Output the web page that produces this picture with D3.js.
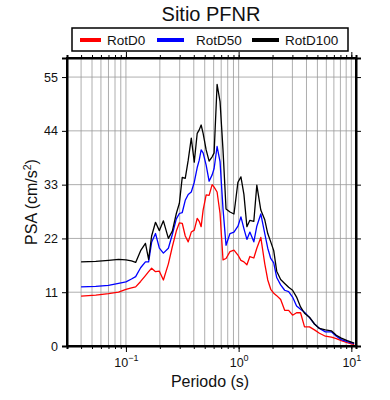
<!DOCTYPE html>
<html>
<head>
<meta charset="utf-8">
<script src="https://cdn.jsdelivr.net/npm/d3@7"></script>
<style>
  body { margin: 0; background: #fff; }
  text { font-family: "Liberation Sans", Arial, sans-serif; fill: #111; }
</style>
</head>
<body>
<script>
const width = 390;
const height = 400;
const margin = {top: 58, right: 34, bottom: 54, left: 67};

// periods (s)
const periods = [0.04, 0.054, 0.07, 0.086, 0.1, 0.112, 0.122, 0.135, 0.149, 0.159, 0.169, 0.183,
  0.198, 0.215, 0.238, 0.258, 0.28, 0.298, 0.316, 0.336, 0.357, 0.38, 0.404, 0.429, 0.447,
  0.465, 0.484, 0.515, 0.547, 0.582, 0.606, 0.644, 0.684, 0.727, 0.773, 0.838, 0.909, 0.986,
  1.048, 1.114, 1.184, 1.258, 1.364, 1.45, 1.573, 1.706, 1.813, 1.927, 2.048, 2.177, 2.36,
  2.561, 2.777, 3.011, 3.267, 3.543, 3.843, 4.253, 4.71, 5.213, 5.888, 6.65, 7.358, 8.145,
  9.2, 10.6];

const rotD0 = [10.2, 10.4, 10.7, 11.0, 11.6, 11.9, 12.1, 13.2, 14.4, 15.2, 15.9, 15.2,
  15.3, 13.5, 16.8, 20.3, 23.5, 25.2, 25.1, 22.5, 21.3, 23.3, 23.7, 26.1, 25.5,
  24.4, 27.8, 30.9, 30.8, 33.0, 32.5, 31.5, 27.1, 17.6, 17.9, 19.3, 19.6, 18.6,
  17.5, 17.2, 16.6, 18.3, 18.0, 20.0, 22.2, 16.8, 13.5, 11.6, 10.8, 10.3, 9.5,
  7.3, 7.3, 6.3, 6.8, 6.8, 3.9, 3.9, 3.3, 2.6, 2.0, 1.8, 1.5, 1.1,
  0.7, 0.3];

const rotD50 = [12.1, 12.2, 12.4, 12.8, 13.1, 13.7, 14.2, 16.0, 17.2, 17.2, 21.2, 23.0,
  20.0, 19.0, 20.0, 22.8, 26.0, 27.1, 27.3, 29.8, 31.0, 31.5, 33.5, 36.5, 38.0,
  40.1, 39.5, 37.0, 33.7, 35.0, 36.3, 40.8, 37.7, 28.0, 20.6, 23.0, 23.3, 24.5,
  26.4, 24.0, 21.8, 23.3, 21.3, 24.5, 27.0, 23.0, 20.0, 17.9, 17.0, 14.0, 12.5,
  11.4, 11.1, 10.0, 8.2, 7.5, 6.9, 5.8, 4.5, 3.6, 2.9, 2.9, 2.0, 1.3,
  0.9, 0.5];

const rotD100 = [17.2, 17.3, 17.5, 17.7, 17.6, 17.4, 17.1, 19.5, 21.0, 17.7, 22.5, 25.3,
  23.6, 25.6, 22.0, 23.5, 27.1, 29.2, 34.5, 34.3, 38.0, 42.5, 37.6, 43.5, 44.2,
  45.2, 43.5, 40.1, 37.8, 38.7, 39.5, 53.5, 50.0, 40.0, 28.0, 27.4, 27.0, 33.5,
  34.6, 31.0, 24.4, 25.7, 25.5, 32.9, 27.8, 25.8, 23.0, 21.3, 19.5, 15.3, 13.6,
  12.8, 12.0, 11.4, 10.0, 8.0, 6.7, 5.9, 4.5, 3.6, 3.3, 3.1, 2.2, 1.6,
  1.1, 0.6];

const seriesNames = ["RotD0", "RotD50", "RotD100"];
const seriesColors = ["#ff0000", "#0000ff", "#000000"];
const seriesValues = [rotD0, rotD50, rotD100];

const yTicks = [0, 11, 22, 33, 44, 55];
const xMajor = [0.1, 1, 10];

const svg = d3.select("body").append("svg").attr("width", width).attr("height", height);

const x = d3.scaleLog().domain([0.03, 11]).range([margin.left, width - margin.right]);
const y = d3.scaleLinear().domain([0, 58.9]).range([height - margin.bottom, margin.top]);

// minor ticks / grid positions
let xMinor = [];
[0.01, 0.1, 1].forEach(dec => {
  for (let k = 1; k <= 9; k++) {
    const v = dec * k;
    if (v >= 0.03 && v <= 11) xMinor.push(v);
  }
});
xMinor.push(10);

const plot = svg.append("g");

// grid
plot.selectAll(".vgrid").data(xMinor).enter().append("line")
  .attr("x1", d => x(d)).attr("x2", d => x(d))
  .attr("y1", y.range()[1]).attr("y2", y.range()[0])
  .attr("stroke", "#999").attr("stroke-width", 0.8);
plot.selectAll(".hgrid").data(yTicks.slice(1)).enter().append("line")
  .attr("x1", x.range()[0]).attr("x2", x.range()[1])
  .attr("y1", d => y(d)).attr("y2", d => y(d))
  .attr("stroke", "#999").attr("stroke-width", 0.8);

// lines
const line = d3.line().x(d => x(d[0])).y(d => y(d[1]));
seriesValues.forEach((vals, i) => {
  plot.append("path")
    .datum(periods.map((p, j) => [p, vals[j]]))
    .attr("fill", "none")
    .attr("stroke", seriesColors[i])
    .attr("stroke-width", 1.3)
    .attr("stroke-linejoin", "round")
    .attr("d", line);
});

// axes
svg.append("g").attr("transform", `translate(0,${y.range()[0]})`)
  .call(d3.axisBottom(x).tickValues(xMinor).tickSize(3).tickFormat(""));
const xb = svg.append("g").attr("transform", `translate(0,${y.range()[0]})`)
  .call(d3.axisBottom(x).tickValues(xMajor).tickSize(6).tickPadding(7).tickFormat(""))
  .call(g => g.select(".domain").remove());
// power-of-ten labels with a raised exponent
xb.selectAll(".tick").append("text")
  .attr("y", 21).attr("text-anchor", "middle").attr("font-size", 12.5).attr("fill", "#111")
  .attr("font-family", "Liberation Sans, Arial, sans-serif")
  .each(function(d) {
    const t = d3.select(this);
    t.append("tspan").text("10");
    t.append("tspan").attr("dy", -6).attr("font-size", 9)
      .text(String(Math.round(Math.log10(d))).replace("-", "\u2212"));
  });
svg.append("g").attr("transform", `translate(0,${y.range()[1]})`)
  .call(d3.axisTop(x).tickValues(xMinor).tickSize(3).tickFormat(""));
svg.append("g").attr("transform", `translate(0,${y.range()[1]})`)
  .call(d3.axisTop(x).tickValues(xMajor).tickSize(6).tickFormat(""))
  .call(g => g.select(".domain").remove());
svg.append("g").attr("transform", `translate(${x.range()[0]},0)`)
  .call(d3.axisLeft(y).tickValues(yTicks).tickSize(5).tickPadding(4))
  .selectAll("text").attr("font-size", 12.5).attr("fill", "#111")
  .attr("font-family", "Liberation Sans, Arial, sans-serif");
svg.append("g").attr("transform", `translate(${x.range()[1]},0)`)
  .call(d3.axisRight(y).tickValues(yTicks).tickSize(5).tickFormat(""));

svg.selectAll(".domain").attr("stroke-width", 2).attr("stroke", "#000");
svg.selectAll(".tick line").attr("stroke", "#000");

// frame
svg.append("rect")
  .attr("x", x.range()[0]).attr("y", y.range()[1])
  .attr("width", x.range()[1] - x.range()[0]).attr("height", y.range()[0] - y.range()[1])
  .attr("fill", "none").attr("stroke", "#000").attr("stroke-width", 2);

// title
svg.append("text").attr("x", 211).attr("y", 21).attr("text-anchor", "middle")
  .attr("font-size", 20).text("Sitio PFNR");

// legend
svg.append("rect").attr("x", 72).attr("y", 28).attr("width", 276).attr("height", 23)
  .attr("fill", "#fff").attr("stroke", "#000").attr("stroke-width", 1.5);
const legendX = [80, 157, 252];
const legendW = [21, 27, 27];
const legendTextX = [107, 196, 285];
seriesNames.forEach((name, i) => {
  svg.append("line").attr("x1", legendX[i]).attr("x2", legendX[i] + legendW[i])
    .attr("y1", 40).attr("y2", 40)
    .attr("stroke", seriesColors[i]).attr("stroke-width", 4);
  svg.append("text").attr("x", legendTextX[i]).attr("y", 45)
    .attr("font-size", 13.5).text(name);
});

// axis labels
svg.append("text").attr("x", 210).attr("y", 387).attr("text-anchor", "middle")
  .attr("font-size", 16).text("Periodo (s)");
const yl = svg.append("text").attr("transform", "translate(37,202) rotate(-90)")
  .attr("text-anchor", "middle").attr("font-size", 16);
yl.append("tspan").text("PSA (cm/s");
yl.append("tspan").attr("font-size", 10.5).attr("dy", -6).text("2");
yl.append("tspan").attr("dy", 6).text(")");
</script>
</body>
</html>
